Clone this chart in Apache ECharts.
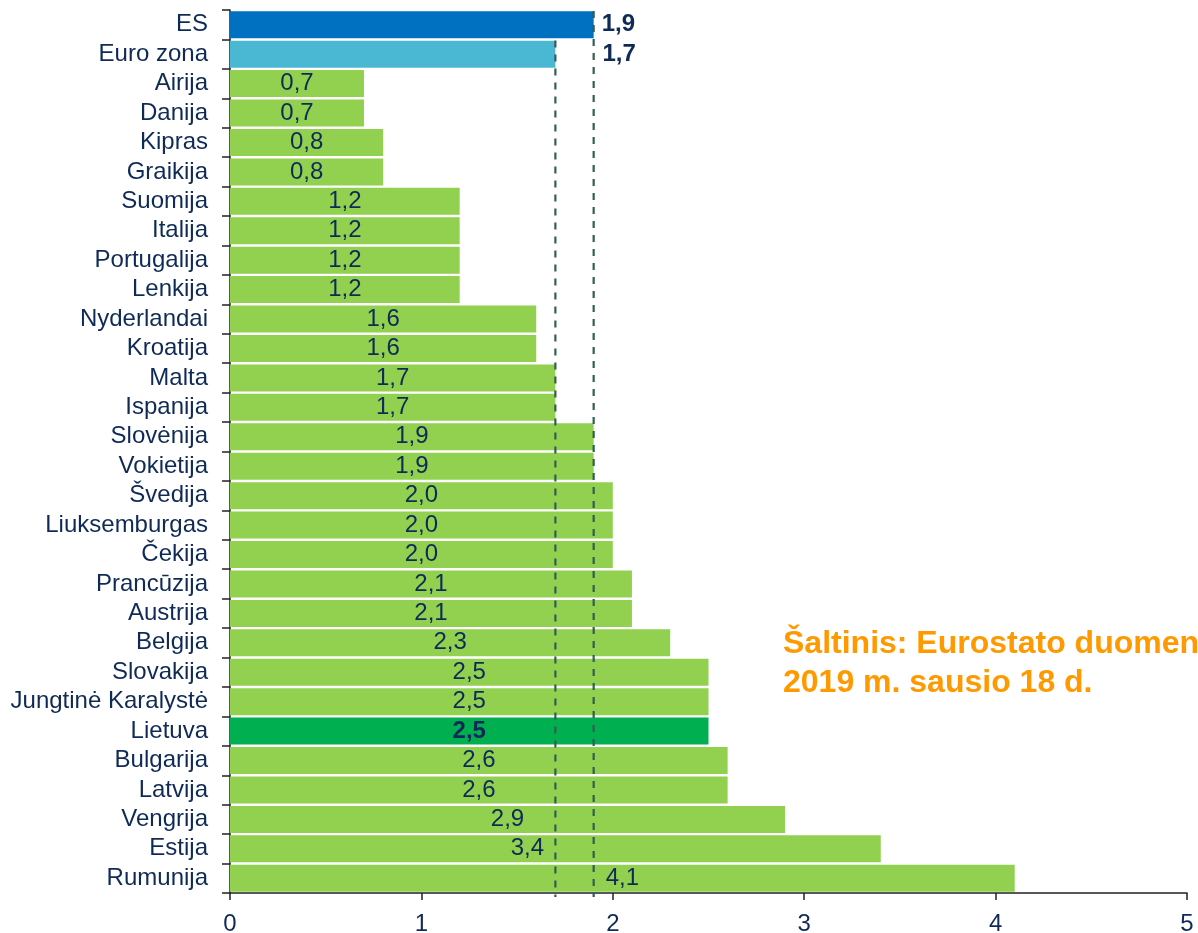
<!DOCTYPE html>
<html><head><meta charset="utf-8">
<script src="https://cdn.jsdelivr.net/npm/echarts@6/dist/echarts.min.js"></script>
<style>html,body{margin:0;padding:0;background:#fff}#c{width:1198px;height:933px}</style>
</head><body><div id="c"></div>
<script>
const categories = ['ES','Euro zona','Airija','Danija','Kipras','Graikija','Suomija','Italija','Portugalija','Lenkija','Nyderlandai','Kroatija','Malta','Ispanija','Slovėnija','Vokietija','Švedija','Liuksemburgas','Čekija','Prancūzija','Austrija','Belgija','Slovakija','Jungtinė Karalystė','Lietuva','Bulgarija','Latvija','Vengrija','Estija','Rumunija'];
const values = [1.9,1.7,0.7,0.7,0.8,0.8,1.2,1.2,1.2,1.2,1.6,1.6,1.7,1.7,1.9,1.9,2.0,2.0,2.0,2.1,2.1,2.3,2.5,2.5,2.5,2.6,2.6,2.9,3.4,4.1];
const xTicks = [0,1,2,3,4,5];
const refLines = [{value:1.9, from:'ES'},{value:1.7, from:'Euro zona'}];
const noteLines = ['Šaltinis: Eurostato duomenys,','2019 m. sausio 18 d.'];

const NAVY = '#0f2a57';
const fmt = v => v.toFixed(1).replace('.', ',');
const colorFor = c => c === 'ES' ? '#0070c0' : c === 'Euro zona' ? '#4bb8d3' : c === 'Lietuva' ? '#00b050' : '#92d050';

const barData = categories.map((c,i) => {
  const item = {value: values[i], itemStyle:{color: colorFor(c)}};
  if (c === 'ES' || c === 'Euro zona') {
    item.label = {position:'right', fontWeight:'bold', distance: c === 'ES' ? 8 : 47};
  } else if (c === 'Lietuva') {
    item.label = {fontWeight:'bold'};
  } else if (c === 'Estija') {
    item.label = {offset:[-28,0]};
  }
  return item;
});

const chart = echarts.init(document.getElementById('c'), null, {renderer:'canvas'});
chart.setOption({
  animation:false,
  grid:{left:230, right:11, top:10, bottom:40, containLabel:false, outerBoundsMode:'none'},
  xAxis:{type:'value', min:xTicks[0], max:xTicks[xTicks.length-1], interval:1,
    splitLine:{show:false},
    axisLine:{show:true, lineStyle:{color:'#222', width:1.5}},
    axisTick:{show:true, length:7, lineStyle:{color:'#222', width:1.5}},
    axisLabel:{color:NAVY, fontSize:24, fontFamily:'Liberation Sans, Arial', margin:19, formatter: v => String(v)}
  },
  yAxis:{type:'category', data:categories, inverse:true,
    axisLine:{show:true, lineStyle:{color:'#222', width:1.5}},
    axisTick:{show:true, interval:0, length:8, lineStyle:{color:'#222', width:1.5}},
    axisLabel:{interval:0, color:NAVY, fontSize:24, fontFamily:'Liberation Sans, Arial', margin:22}
  },
  series:[
    {type:'bar', data:barData, barWidth:27, z:2,
      label:{show:true, position:'inside', color:NAVY, fontSize:24, fontFamily:'Liberation Sans, Arial',
        formatter: p => fmt(p.value)}
    },
    {type:'custom', z:5, silent:true,
      data: refLines.map(r => [r.value, categories.indexOf(r.from)]),
      encode:{x:0, y:1},
      renderItem:(params, api) => {
        const p = api.coord([api.value(0), api.value(1)]);
        const h = api.size([0,1])[1];
        const y1 = p[1] - h/2 + 1;
        const y2 = params.coordSys.y + params.coordSys.height + 4;
        return {type:'line', shape:{x1:p[0], y1:y1, x2:p[0], y2:y2},
          style:{stroke:'#335e50', lineWidth:2.2, lineDash:[7,7]}};
      }
    }
  ],
  graphic:[{type:'text', left:783, top:625, z:10,
    style:{text: noteLines.join('\n'), fill:'#ff9900', font:'bold 32px "Liberation Sans", Arial', lineHeight:39}}]
});
</script></body></html>
